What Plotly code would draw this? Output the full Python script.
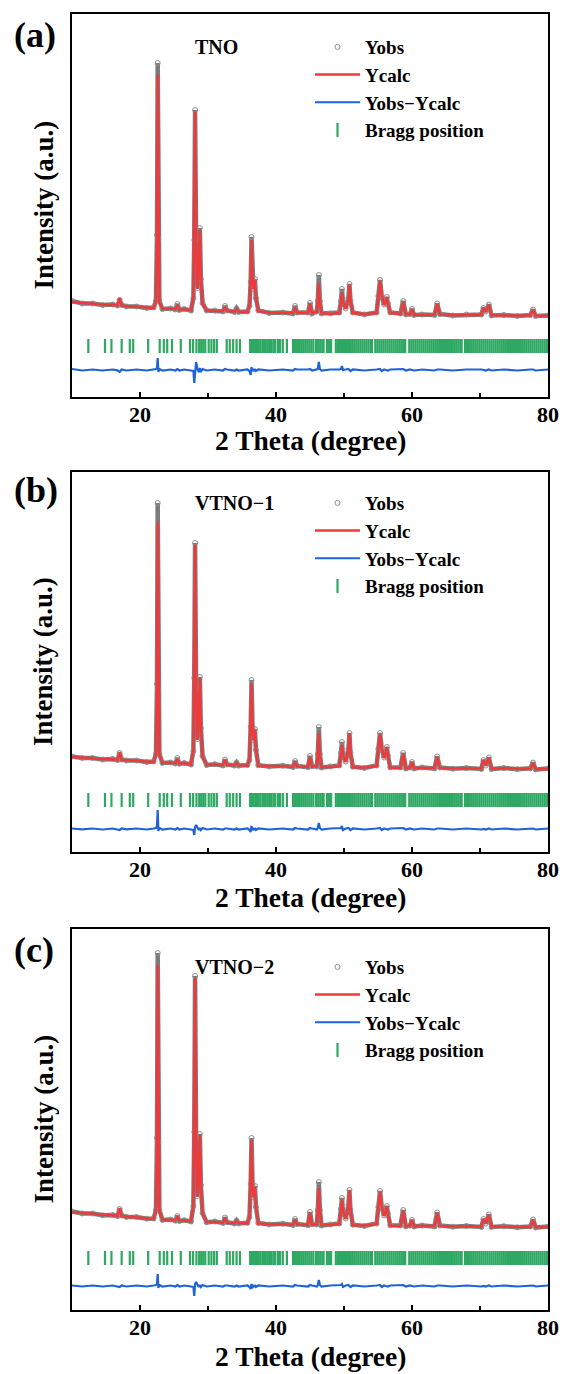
import plotly.graph_objects as go

# ---------------- data (arbitrary intensity units) ----------------
two_theta = [
    10.0, 11.5, 13.0, 14.5, 16.0, 16.7, 17.0, 17.3, 18.0, 19.5,
    21.0, 22.0, 22.35, 22.5, 22.6, 22.7, 22.85, 23.3, 24.5, 25.2,
    25.5, 25.8, 26.5, 27.5, 27.85, 27.98, 28.1, 28.25, 28.45, 28.65,
    28.8, 28.95, 29.2, 29.8, 31.0, 32.2, 32.5, 32.8, 33.9, 34.2,
    34.5, 35.8, 36.1, 36.28, 36.4, 36.55, 36.68, 36.8, 36.9, 37.05,
    37.4, 39.0, 41.0, 42.5, 42.8, 43.1, 44.7, 45.0, 45.3, 46.0,
    46.15, 46.3, 46.45, 46.7, 48.0, 49.3, 49.55, 49.7, 49.85, 50.25,
    50.65, 50.8, 50.95, 51.3, 53.0, 54.8, 55.05, 55.3, 55.55, 55.9,
    56.15, 56.3, 56.45, 56.8, 58.3, 58.7, 59.1, 59.7, 60.0, 60.3,
    61.5, 63.3, 63.7, 64.1, 66.0, 68.0, 70.2, 70.5, 70.85, 71.3,
    71.7, 73.5, 75.5, 77.4, 77.8, 78.2, 80.0,
]

sample_names = ["TNO", "VTNO−1", "VTNO−2"]
panel_labels = ["(a)", "(b)", "(c)"]

ycalc_tno = [
    95, 94, 93, 92.5, 92, 91.8, 99, 91.5, 91, 90,
    89.5, 89, 95, 160, 322, 160, 95, 88.5, 88, 88,
    92, 87.5, 87.5, 87, 100, 170, 285, 150, 108, 130,
    167, 120, 93, 87, 86, 86, 90, 86, 85.5, 88,
    85.5, 85, 92, 120, 157, 118, 108, 112, 117, 100,
    86, 84.5, 84, 84, 90, 84, 84, 93, 84, 85,
    95, 114, 95, 84, 83, 84, 95, 104, 95, 88,
    98, 113, 97, 84, 83, 84, 100, 116, 102, 92,
    95, 100, 94, 84, 83, 95, 83, 82.5, 88, 82.5,
    82, 82.5, 93, 82.5, 82, 82, 82, 89, 86, 92,
    82, 81.5, 81.5, 81.5, 87, 81.5, 81,
]
yobs_tno = [
    96, 93.5, 93.5, 92, 92.5, 91.5, 97, 92, 90.5, 90.5,
    89, 89.5, 96, 162, 334, 158, 96, 88, 88.5, 87.5,
    93, 87, 88, 86.5, 99, 157, 287, 158, 109, 128,
    169, 118, 94, 86.5, 86.5, 85.5, 91, 86.5, 85, 88.5,
    85, 85.5, 91, 115, 160, 117, 108, 111, 118, 99,
    86.5, 84, 84.5, 83.5, 91, 84.5, 84.5, 94, 83.5, 85.5,
    96, 122, 96, 83.5, 83.5, 84.5, 96, 108, 95, 88.5,
    99, 113, 96, 84.5, 82.5, 84.5, 101, 117, 101, 92.5,
    95, 100, 93.5, 84.5, 83.5, 96, 82.5, 83, 88, 82,
    82.5, 82, 93.5, 83, 81.5, 82.5, 82.5, 89, 85.5, 92.5,
    81.5, 82, 81, 82, 87.5, 81, 81.5,
]

ycalc_vtno1 = [
    95, 94.3, 93.5, 93, 92.5, 92.2, 100, 92, 91.8, 91,
    90.5, 90, 97, 165, 330, 165, 97, 89.5, 89, 89,
    93, 88.8, 88.5, 88, 102, 180, 307, 160, 112, 135,
    174, 125, 95, 87.5, 87.3, 87, 92, 87, 87, 89,
    86.8, 86.5, 93, 128, 169, 125, 112, 117, 122, 103,
    86.3, 86, 85.8, 85.5, 90, 85.5, 85.3, 95, 85.2, 86,
    97, 119, 97, 85, 85, 86, 98, 107, 97, 90,
    102, 119, 100, 84.8, 84.5, 86, 102, 118, 104, 94,
    98, 105, 97, 84.2, 84, 98, 84, 84, 90, 84,
    84, 84, 95, 84, 83.8, 83.5, 83.5, 92, 87, 94,
    83.5, 83.5, 83.3, 83.2, 89, 83, 83,
]
yobs_vtno1 = [
    95.5, 94, 94, 92.5, 93, 92, 99, 92.5, 91.5, 91.5,
    90, 90.5, 98, 168, 349, 163, 98, 89, 89.5, 88.5,
    94, 88.3, 89, 87.5, 101, 174, 309, 164, 113, 134,
    175, 124, 96, 87, 87.8, 86.5, 92.5, 87.5, 86.5, 89.5,
    86.3, 87, 92, 125, 172, 124, 112, 116, 123, 102,
    86.8, 85.5, 86.3, 85, 91, 86, 84.8, 96, 85.7, 85.5,
    98, 125, 98, 84.5, 85.5, 86.5, 99, 110, 96, 90.5,
    103, 119, 99, 85.3, 84, 86.5, 103, 119, 103, 94.5,
    98, 105, 96.5, 84.7, 84.5, 99, 83.5, 84.5, 90, 83.5,
    84.5, 83.5, 95.5, 84.5, 83.3, 84, 83, 92, 86.5, 94.5,
    83, 84, 82.8, 83.7, 89.5, 82.5, 83.5,
]

ycalc_vtno2 = [
    98, 97, 96, 95.2, 94.5, 94.2, 102, 94, 93.5, 92.5,
    91.8, 91, 99, 170, 345, 170, 99, 90.5, 90, 89.8,
    93, 89.5, 89.3, 89, 105, 188, 332, 168, 113, 137,
    175, 126, 96, 88.2, 88, 87.5, 92, 87.3, 87, 89,
    87, 86.7, 94, 129, 170, 126, 113, 118, 123, 104,
    86.5, 86, 85.8, 85.5, 90, 85.5, 85.3, 97, 85.2, 86,
    99, 122, 99, 85, 85, 86, 100, 110, 99, 91,
    104, 120, 101, 84.8, 84.5, 86, 102, 118, 104, 94,
    98, 104, 97, 84.2, 84, 99, 84, 84, 90, 84,
    84, 84, 97, 84, 83.8, 83.5, 83.5, 91, 87, 95,
    83.5, 83.3, 83.2, 83, 90, 83, 83,
]
yobs_vtno2 = [
    98.5, 96.5, 96.5, 94.7, 95, 94, 101, 94.5, 93, 93,
    91.3, 91.5, 100, 172, 357, 168, 100, 90, 90.5, 89.3,
    94, 89, 89.8, 88.5, 104, 178, 334, 172, 114, 136,
    176, 125, 97, 87.7, 88.5, 87, 92.5, 87.8, 86.5, 89.5,
    86.5, 87.2, 93, 126, 172, 125, 113, 117, 124, 103,
    87, 85.5, 86.3, 85, 91, 86, 84.8, 98, 85.7, 85.5,
    100, 128, 100, 84.5, 85.5, 86.5, 101, 112, 98, 91.5,
    105, 120, 100, 85.3, 84, 86.5, 103, 119, 103, 94.5,
    98, 104, 96.5, 84.7, 84.5, 100, 83.5, 84.5, 90, 83.5,
    84.5, 83.5, 97.5, 84.5, 83.3, 84, 83, 91, 86.5, 95.5,
    83, 83.8, 82.7, 83.5, 90.5, 82.5, 83.5,
]

bragg_positions = [
    12.4, 14.85, 15.8, 17.3, 18.5, 19.0, 21.2, 22.9, 23.5, 24.0, 24.7, 26.0,
    27.35, 27.8, 28.3, 28.7, 29.0, 29.3, 29.6, 30.1, 30.5, 30.9, 31.3,
    32.75, 33.2, 33.7, 34.2, 34.7,
    36.2, 36.45, 36.7, 36.95, 37.2, 37.45, 37.7, 38.0, 38.25, 38.5, 38.8, 39.1,
    39.35, 39.65, 39.9, 40.3, 40.6, 41.0, 41.6,
    42.5, 42.8, 43.1, 43.4, 43.7, 44.0, 44.3, 44.6, 44.9, 45.2, 45.5,
    45.9, 46.2, 46.5, 46.8, 47.0,
    47.5, 47.8, 48.1,
    48.8, 49.1, 49.4, 49.7, 50.0, 50.3, 50.6, 50.9, 51.2, 51.5, 51.8, 52.1, 52.4,
    52.7, 53.0, 53.3, 53.6, 53.9, 54.1,
    54.6, 54.9, 55.2, 55.5, 55.8, 56.1, 56.4, 56.7, 57.0, 57.3, 57.6, 57.9, 58.2,
    58.5, 58.8, 59.0,
    59.6, 59.9, 60.2, 60.5, 60.8, 61.1, 61.4, 61.7, 62.0, 62.3, 62.6, 62.9, 63.2,
    63.5, 63.8, 64.1, 64.4, 64.7, 65.0, 65.3, 65.6, 65.9, 66.2, 66.5, 66.8, 67.1, 67.3,
    67.8, 68.1, 68.4, 68.7, 69.0, 69.3, 69.6, 69.9, 70.2, 70.5, 70.8, 71.1, 71.4,
    71.7, 72.0, 72.3, 72.6, 72.9, 73.2, 73.5, 73.8, 74.1, 74.4, 74.7, 75.0, 75.3,
    75.6, 75.9, 76.2, 76.5, 76.8, 77.1, 77.4, 77.7, 78.0, 78.3, 78.6, 78.9, 79.2,
    79.5, 79.8, 80.0,
]

x_tickvals = [20, 40, 60, 80]
x_minor_tickvals = [30, 50, 70]

calc_sets = [ycalc_tno, ycalc_vtno1, ycalc_vtno2]
obs_sets = [yobs_tno, yobs_vtno1, yobs_vtno2]
for s in calc_sets + obs_sets:
    assert len(s) == len(two_theta)

# ---------------- styling / layout constants ----------------
W, H = 563, 1374
ML, MR, MT, MB = 72, 15, 14, 64
PH = H - MT - MB
PW = W - ML - MR

panel_px = [(14, 397), (472, 852), (929, 1310)]   # top, bottom of each box (px)
diff_offset = [27, 23, 24]
bragg_level = [51, 52, 52]
legend_top_px = [28, 484, 948]
name_px = [47, 503, 967]
label_px = [35, 490, 950]
xtitle_px = [440, 897, 1356]

RED = "#EE3A3D"
BLUE = "#1F63D8"
GREEN = "#2EA862"
FONT = "Liberation Serif"


def py(px):
    return (H - MB - px) / PH


def pxx(px):
    return (px - ML) / PW


fig = go.Figure()
annotations = []

for i in range(3):
    suf = "" if i == 0 else str(i + 1)
    xa, ya = "x" + suf, "y" + suf
    leg = "legend" + suf
    obs = obs_sets[i]
    calc = calc_sets[i]
    diff = [o - c + diff_offset[i] for o, c in zip(obs, calc)]

    fig.add_trace(go.Scatter(
        x=two_theta, y=obs, mode="lines", xaxis=xa, yaxis=ya,
        line=dict(color="rgba(90,90,90,0.8)", width=4.5),
        showlegend=False, hoverinfo="skip", legend=leg))
    fig.add_trace(go.Scatter(
        x=two_theta, y=obs, mode="markers", xaxis=xa, yaxis=ya, name="Yobs",
        marker=dict(symbol="circle-open", size=5, color="#8f8f8f", line=dict(width=1)),
        legend=leg))
    fig.add_trace(go.Scatter(
        x=two_theta, y=calc, mode="lines", xaxis=xa, yaxis=ya, name="Ycalc",
        line=dict(color=RED, width=2.6), legend=leg))
    fig.add_trace(go.Scatter(
        x=two_theta, y=diff, mode="lines", xaxis=xa, yaxis=ya, name="Yobs−Ycalc",
        line=dict(color=BLUE, width=2.2), legend=leg))
    fig.add_trace(go.Scatter(
        x=bragg_positions, y=[bragg_level[i]] * len(bragg_positions), mode="markers",
        xaxis=xa, yaxis=ya, name="Bragg position",
        marker=dict(symbol="line-ns", size=10, line=dict(width=2.2, color=GREEN)),
        legend=leg))

    top, bot = panel_px[i]
    fig.update_layout(**{
        "xaxis" + suf: dict(
            domain=[0, 1], range=[10, 80], anchor=ya, automargin=False,
            tickvals=x_tickvals, ticks="inside", ticklen=5, tickwidth=1.5, tickcolor="black",
            minor=dict(tickvals=x_minor_tickvals, ticks="inside", ticklen=4, tickwidth=1.5,
                       tickcolor="black"),
            showline=True, linewidth=2, linecolor="black", mirror=True,
            showgrid=False, zeroline=False, ticklabelstandoff=-3,
            tickfont=dict(family=FONT, size=22, color="black", weight="bold"),
        ),
        "yaxis" + suf: dict(
            domain=[py(bot), py(top)], range=[0, bot - top], anchor=xa, automargin=False,
            showticklabels=False, ticks="", showline=True, linewidth=2,
            linecolor="black", mirror=True, showgrid=False, zeroline=False,
        ),
        leg: dict(
            x=pxx(310), y=py(legend_top_px[i]), xanchor="left", yanchor="top",
            bgcolor="rgba(0,0,0,0)", borderwidth=0, itemwidth=45,
            font=dict(family=FONT, size=19, color="black", weight="bold"),
            tracegroupgap=0,
        ),
    })

    annotations.append(dict(
        text=panel_labels[i], xref="paper", yref="paper", x=pxx(12), y=py(label_px[i]),
        xanchor="left", yanchor="middle", showarrow=False,
        font=dict(family=FONT, size=36, color="black", weight="bold")))
    annotations.append(dict(
        text=sample_names[i], xref="paper", yref="paper", x=pxx(193), y=py(name_px[i]),
        xanchor="left", yanchor="middle", showarrow=False,
        font=dict(family=FONT, size=20, color="black", weight="bold")))
    annotations.append(dict(
        text="Intensity (a.u.)", xref="paper", yref="paper", x=pxx(43),
        y=py((top + bot) / 2), xanchor="center", yanchor="middle", textangle=-90,
        showarrow=False, font=dict(family=FONT, size=27, color="black", weight="bold")))
    annotations.append(dict(
        text="2 Theta (degree)", xref="paper", yref="paper", x=0.5, y=py(xtitle_px[i]),
        xanchor="center", yanchor="middle", showarrow=False,
        font=dict(family=FONT, size=27.5, color="black", weight="bold")))

fig.update_layout(
    width=W, height=H,
    margin=dict(l=ML, r=MR, t=MT, b=MB, autoexpand=False),
    paper_bgcolor="white", plot_bgcolor="white",
    font=dict(family=FONT, color="black"),
    annotations=annotations,
)

fig.write_html("out.html")
